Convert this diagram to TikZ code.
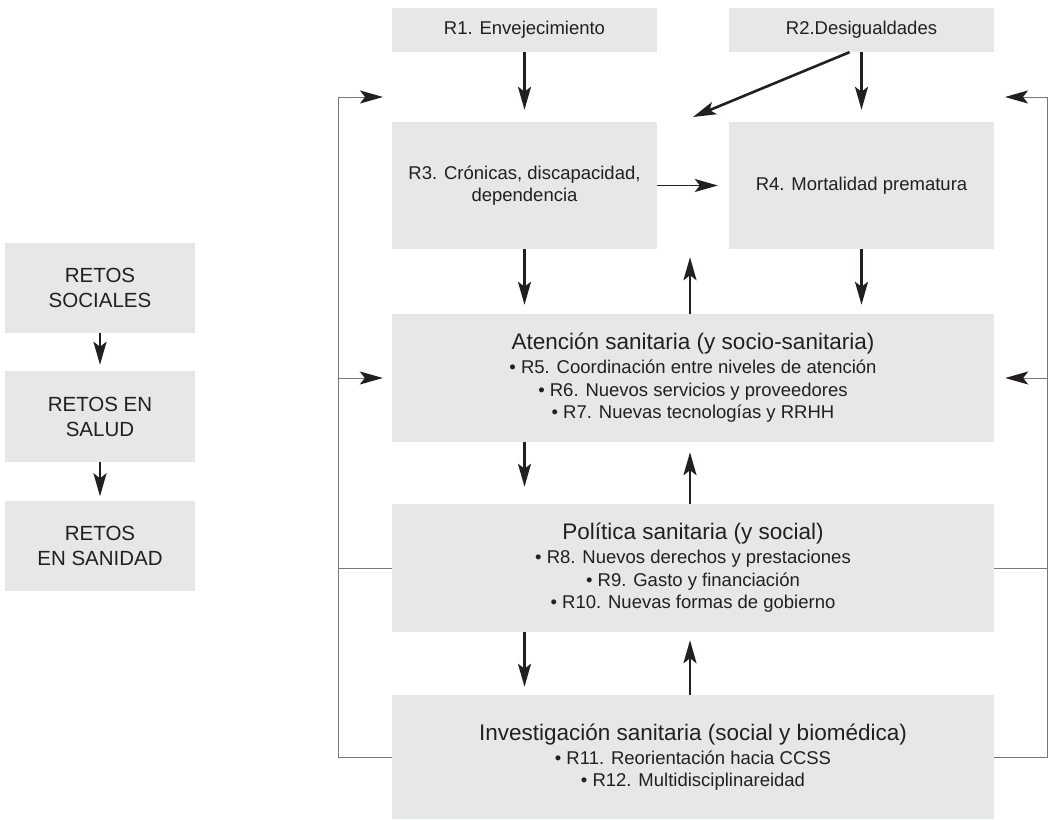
\documentclass[tikz,border=0pt]{standalone}
\usepackage{fontspec}
\setmainfont{Liberation Sans}
\usepackage{xcolor}
\usepackage{tikz}
\usetikzlibrary{arrows.meta, positioning, calc}

\definecolor{boxgray}{RGB}{230,231,232}
\definecolor{inkgray}{RGB}{35,31,32}
\definecolor{loopgray}{RGB}{120,120,120}
\newcommand{\titlefont}{\fontsize{22.5}{27}\selectfont}

\begin{document}
\begin{tikzpicture}[x=1pt, y=-1pt,
  box/.style={fill=boxgray, inner sep=0pt, align=center, text=inkgray,
    font=\fontsize{18.5}{22.5}\selectfont},
  smallbox/.style={box, minimum width=265pt, minimum height=44pt},
  midbox/.style={box, minimum width=265pt, minimum height=127pt},
  widebox/.style={box, minimum width=602pt, minimum height=128pt},
  retobox/.style={box, minimum width=190pt, minimum height=90pt,
    font=\fontsize{20.5}{25}\selectfont},
  thickarrow/.style={-{Stealth[length=23pt, width=13pt, inset=5pt]},
    line width=2.6pt, draw=inkgray},
  thinarrow/.style={-{Stealth[length=23pt, width=13pt, inset=5pt, color=inkgray]},
    line width=1pt, draw=loopgray},
  thinline/.style={line width=1pt, draw=loopgray}]
\useasboundingbox (0,0) rectangle (1048,819);

% Left column: levels of challenges
\node[retobox] (soc) at (100,288) {RETOS\\SOCIALES};
\node[retobox, minimum height=91pt] (sal) at (100,416.5) {RETOS EN\\SALUD};
\node[retobox] (san) at (100,545.5) {RETOS\\EN SANIDAD};
\draw[thickarrow, shorten >=6pt] (soc.south) -- (sal.north);
\draw[thickarrow, shorten >=4pt] (sal.south) -- (san.north);

% Social challenges
\node[smallbox] (r1) at (524.5,30) {R1. Envejecimiento};
\node[smallbox] (r2) at (861.5,30) {R2.Desigualdades};

% Health challenges
\node[midbox] (r3) at (524.5,185.5) {R3. Crónicas, discapacidad,\\dependencia};
\node[midbox] (r4) at (861.5,185.5) {R4. Mortalidad prematura};

% Health-system challenges
\node[widebox] (aten) at (693,378) {{\titlefont Atención sanitaria (y socio-sanitaria)}\\[1.5pt]
  • R5. Coordinación entre niveles de atención\\
  • R6. Nuevos servicios y proveedores\\
  • R7. Nuevas tecnologías y RRHH};
\node[widebox] (pol) at (693,568) {{\titlefont Política sanitaria (y social)}\\[1.5pt]
  • R8. Nuevos derechos y prestaciones\\
  • R9. Gasto y financiación\\
  • R10. Nuevas formas de gobierno};
\node[widebox, minimum height=124pt] (inv) at (693,757) {{\titlefont Investigación sanitaria (social y biomédica)}\\[1.5pt]
  • R11. Reorientación hacia CCSS\\
  • R12. Multidisciplinareidad};

% Arrows between the upper boxes
\coordinate (gapin) at (693,117);
\draw[thickarrow, shorten >=12pt] (r1.south) -- (r3.north);
\draw[thickarrow, shorten >=12pt] (r2.south) -- (r2.south |- r4.north);
\draw[thickarrow] ([xshift=-12pt]r2.south) -- (gapin);
\draw[thinarrow, draw=inkgray, shorten >=11pt] (r3.east) -- (r4.west);

% Arrows into and out of the system boxes
\draw[thickarrow, shorten >=9pt] (r3.south) -- (r3.south |- aten.north);
\draw[thickarrow, shorten >=9pt] (r4.south) -- (r4.south |- aten.north);
\draw[thickarrow, shorten >=8pt] ([xshift=-3pt]aten.north) -- ([xshift=-3pt]aten.north |- r3.south);
\draw[thickarrow, shorten >=17pt] (aten.south -| r3.south) -- (pol.north -| r3.south);
\draw[thickarrow, shorten >=10pt] ([xshift=-3pt]pol.north) -- ([xshift=-3pt]aten.south);
\draw[thickarrow, shorten >=8pt] (pol.south -| r3.south) -- (inv.north -| r3.south);
\draw[thickarrow, shorten >=8pt] ([xshift=-3pt]inv.north) -- ([xshift=-3pt]pol.south);

% Feedback loops on both sides
\coordinate (lcorner) at (338,97);
\coordinate (rcorner) at (1047,97);
\draw[thinline] (inv.west) -| (lcorner);
\draw[thinarrow] (lcorner) -- ++(45,0);
\draw[thinline] (pol.west) -- (pol.west -| lcorner);
\draw[thinarrow, shorten >=9pt] (aten.west -| lcorner) -- (aten.west);
\draw[thinline] (inv.east) -| (rcorner);
\draw[thinarrow] (rcorner) -- ++(-42,0);
\draw[thinline] (pol.east) -- (pol.east -| rcorner);
\draw[thinarrow, shorten >=11pt] (aten.east -| rcorner) -- (aten.east);
\end{tikzpicture}
\end{document}
